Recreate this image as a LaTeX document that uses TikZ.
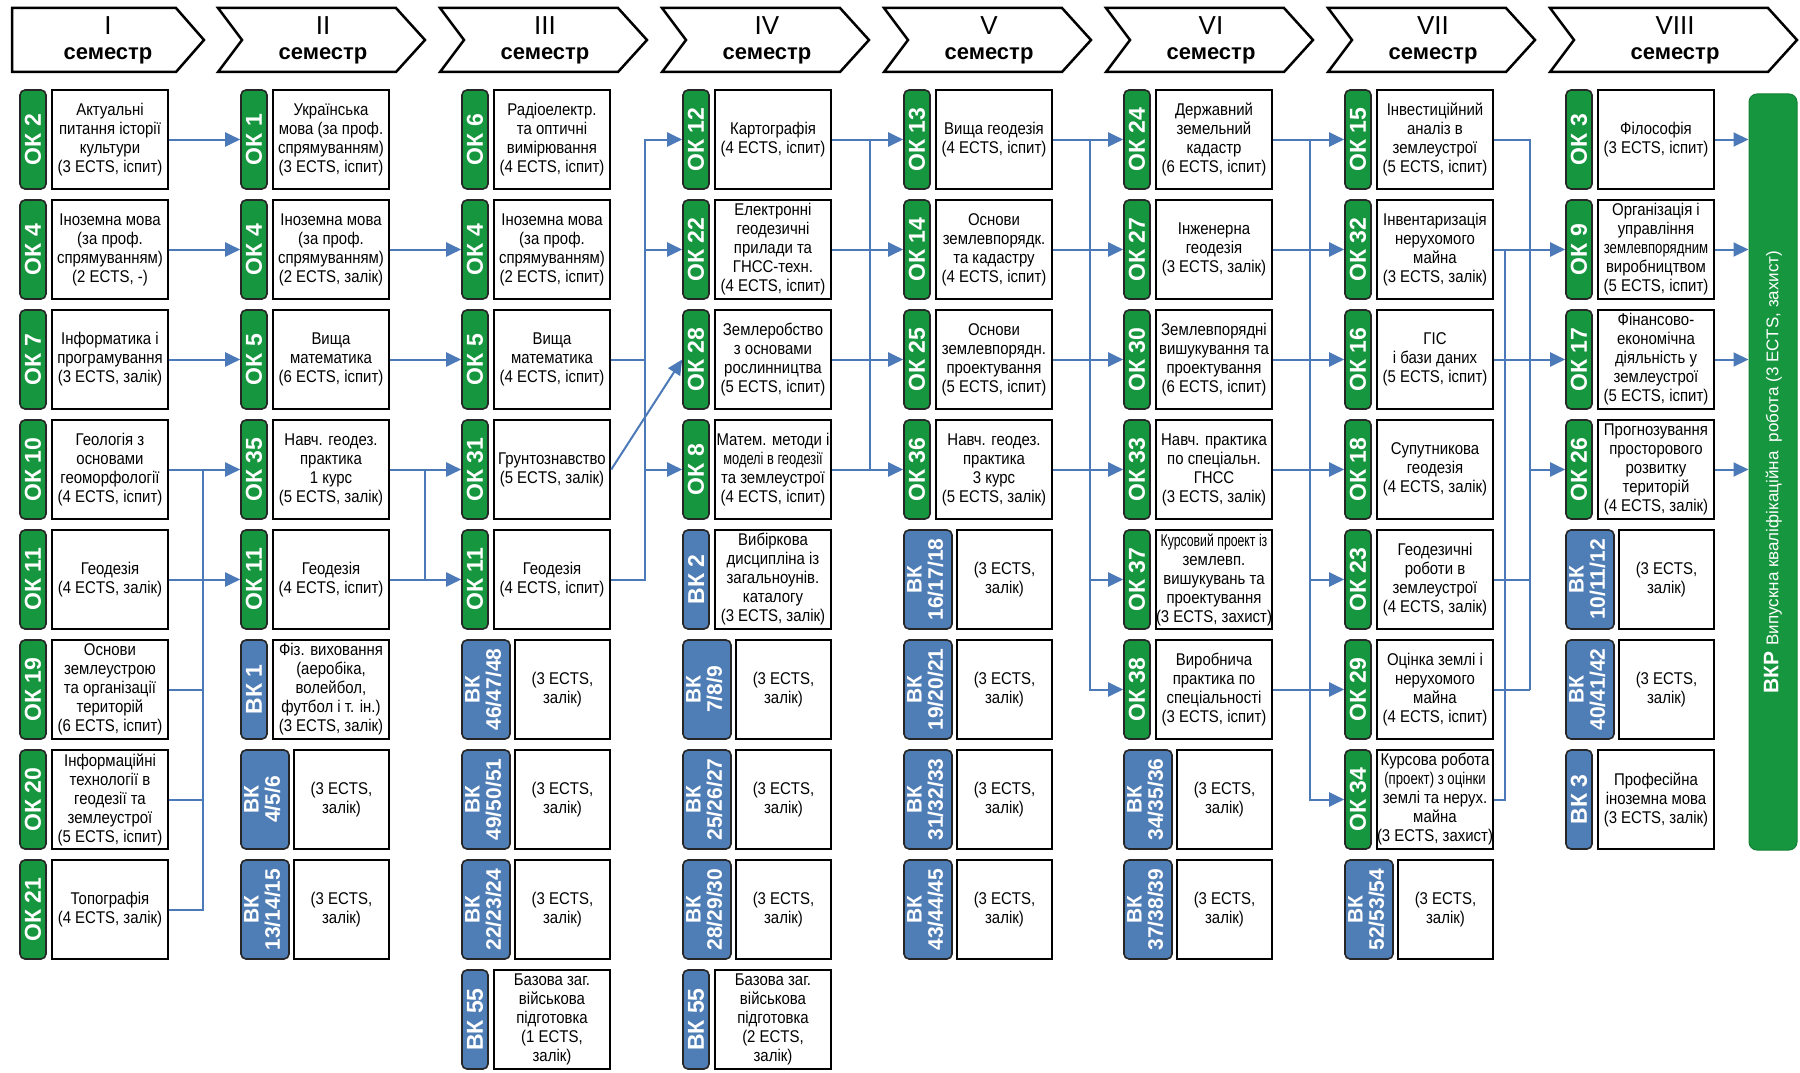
\documentclass[tikz,border=0pt]{standalone}
\usepackage{fontspec}
\setmainfont{Liberation Sans}
\newfontfamily\boxfont[FakeStretch=0.88]{Liberation Sans}
\usetikzlibrary{arrows.meta}
\definecolor{okgreen}{RGB}{22,150,62}
\definecolor{vkblue}{RGB}{79,125,182}
\definecolor{linkblue}{RGB}{76,122,184}

\begin{document}
\begin{tikzpicture}[x=1pt,y=-1pt,
    head/.style={draw=black, line width=2.5pt, fill=white},
    numeral/.style={inner sep=0pt, font=\fontsize{26}{26}\selectfont},
    semword/.style={inner sep=0pt, font=\bfseries\fontsize{22}{22}\selectfont},
    ok/.style={draw=black!85, line width=1.6pt, fill=okgreen, rounded corners=5pt, text=white,
      minimum width=26pt, minimum height=99pt, inner sep=0pt, font=\bfseries\fontsize{23}{23}\selectfont},
    vk/.style={ok, fill=vkblue},
    vkwide/.style={vk, minimum width=48pt, font=\bfseries\fontsize{21}{20}\selectfont},
    course/.style={draw=black, line width=2.5pt, fill=white, minimum width=116pt, minimum height=99pt,
      inner sep=0pt, align=center, font=\boxfont\fontsize{17}{19}\selectfont},
    elective/.style={course, minimum width=95pt},
    link/.style={draw=linkblue, line width=2pt, -{Triangle[length=15pt,width=14pt]}},
    wire/.style={draw=linkblue, line width=2pt}]

    \useasboundingbox (0,0) rectangle (1800,1073);

    % Semester headers
    \draw[head] (12,8) -- (176,8) -- (204,40) -- (176,72) -- (12,72) -- cycle;
    \draw[head] (218,8) -- (396,8) -- (425,40) -- (396,72) -- (218,72) -- (242,40) -- cycle;
    \draw[head] (440,8) -- (618,8) -- (647,40) -- (618,72) -- (440,72) -- (464,40) -- cycle;
    \draw[head] (662,8) -- (840,8) -- (869,40) -- (840,72) -- (662,72) -- (686,40) -- cycle;
    \draw[head] (884,8) -- (1062,8) -- (1091,40) -- (1062,72) -- (884,72) -- (908,40) -- cycle;
    \draw[head] (1106,8) -- (1284,8) -- (1313,40) -- (1284,72) -- (1106,72) -- (1130,40) -- cycle;
    \draw[head] (1328,8) -- (1506,8) -- (1535,40) -- (1506,72) -- (1328,72) -- (1352,40) -- cycle;
    \draw[head] (1550,8) -- (1768,8) -- (1797,40) -- (1768,72) -- (1550,72) -- (1574,40) -- cycle;

    \node[numeral] (h1) at (108,26) {I};
    \node[semword] (s1) at (108,56) {семестр};
    \node[numeral] (h2) at (323,26) {II};
    \node[semword] (s2) at (323,56) {семестр};
    \node[numeral] (h3) at (545,26) {III};
    \node[semword] (s3) at (545,56) {семестр};
    \node[numeral] (h4) at (767,26) {IV};
    \node[semword] (s4) at (767,56) {семестр};
    \node[numeral] (h5) at (989,26) {V};
    \node[semword] (s5) at (989,56) {семестр};
    \node[numeral] (h6) at (1211,26) {VI};
    \node[semword] (s6) at (1211,56) {семестр};
    \node[numeral] (h7) at (1433,26) {VII};
    \node[semword] (s7) at (1433,56) {семестр};
    \node[numeral] (h8) at (1675,26) {VIII};
    \node[semword] (s8) at (1675,56) {семестр};

    % Semester I
    \node[ok] (t11) at (33,139.5) {\rotatebox{90}{ОК 2}};
    \node[course] (b11) at (110,139.5) {Актуальні\\питання історії\\культури\\(3 ECTS, іспит)};
    \node[ok] (t12) at (33,249.5) {\rotatebox{90}{ОК 4}};
    \node[course] (b12) at (110,249.5) {Іноземна мова\\(за проф.\\спрямуванням)\\(2 ECTS, -)};
    \node[ok] (t13) at (33,359.5) {\rotatebox{90}{ОК 7}};
    \node[course] (b13) at (110,359.5) {Інформатика і\\програмування\\(3 ECTS, залік)};
    \node[ok] (t14) at (33,469.5) {\rotatebox{90}{ОК 10}};
    \node[course] (b14) at (110,469.5) {Геологія з\\основами\\геоморфології\\(4 ECTS, іспит)};
    \node[ok] (t15) at (33,579.5) {\rotatebox{90}{ОК 11}};
    \node[course] (b15) at (110,579.5) {Геодезія\\(4 ECTS, залік)};
    \node[ok] (t16) at (33,689.5) {\rotatebox{90}{ОК 19}};
    \node[course] (b16) at (110,689.5) {Основи\\землеустрою\\та організації\\територій\\(6 ECTS, іспит)};
    \node[ok] (t17) at (33,799.5) {\rotatebox{90}{ОК 20}};
    \node[course] (b17) at (110,799.5) {Інформаційні\\технології в\\геодезії та\\землеустрої\\(5 ECTS, іспит)};
    \node[ok] (t18) at (33,909.5) {\rotatebox{90}{ОК 21}};
    \node[course] (b18) at (110,909.5) {Топографія\\(4 ECTS, залік)};

    % Semester II
    \node[ok] (t21) at (254,139.5) {\rotatebox{90}{ОК 1}};
    \node[course] (b21) at (331,139.5) {Українська\\мова (за проф.\\спрямуванням)\\(3 ECTS, іспит)};
    \node[ok] (t22) at (254,249.5) {\rotatebox{90}{ОК 4}};
    \node[course] (b22) at (331,249.5) {Іноземна мова\\(за проф.\\спрямуванням)\\(2 ECTS, залік)};
    \node[ok] (t23) at (254,359.5) {\rotatebox{90}{ОК 5}};
    \node[course] (b23) at (331,359.5) {Вища\\математика\\(6 ECTS, іспит)};
    \node[ok] (t24) at (254,469.5) {\rotatebox{90}{ОК 35}};
    \node[course] (b24) at (331,469.5) {Навч. геодез.\\практика\\1 курс\\(5 ECTS, залік)};
    \node[ok] (t25) at (254,579.5) {\rotatebox{90}{ОК 11}};
    \node[course] (b25) at (331,579.5) {Геодезія\\(4 ECTS, іспит)};
    \node[vk] (t26) at (254,689.5) {\rotatebox{90}{ВК 1}};
    \node[course] (b26) at (331,689.5) {Фіз. виховання\\(аеробіка,\\волейбол,\\футбол і т. ін.)\\(3 ECTS, залік)};
    \node[vkwide] (t27) at (265,799.5) {\rotatebox{90}{\begin{tabular}{@{}c@{}}ВК\\4/5/6\end{tabular}}};
    \node[elective] (b27) at (341.5,799.5) {(3 ECTS,\\залік)};
    \node[vkwide] (t28) at (265,909.5) {\rotatebox{90}{\begin{tabular}{@{}c@{}}ВК\\13/14/15\end{tabular}}};
    \node[elective] (b28) at (341.5,909.5) {(3 ECTS,\\залік)};

    % Semester III
    \node[ok] (t31) at (475,139.5) {\rotatebox{90}{ОК 6}};
    \node[course] (b31) at (552,139.5) {Радіоелектр.\\та оптичні\\вимірювання\\(4 ECTS, іспит)};
    \node[ok] (t32) at (475,249.5) {\rotatebox{90}{ОК 4}};
    \node[course] (b32) at (552,249.5) {Іноземна мова\\(за проф.\\спрямуванням)\\(2 ECTS, іспит)};
    \node[ok] (t33) at (475,359.5) {\rotatebox{90}{ОК 5}};
    \node[course] (b33) at (552,359.5) {Вища\\математика\\(4 ECTS, іспит)};
    \node[ok] (t34) at (475,469.5) {\rotatebox{90}{ОК 31}};
    \node[course] (b34) at (552,469.5) {Грунтознавство\\(5 ECTS, залік)};
    \node[ok] (t35) at (475,579.5) {\rotatebox{90}{ОК 11}};
    \node[course] (b35) at (552,579.5) {Геодезія\\(4 ECTS, іспит)};
    \node[vkwide] (t36) at (486,689.5) {\rotatebox{90}{\begin{tabular}{@{}c@{}}ВК\\46/47/48\end{tabular}}};
    \node[elective] (b36) at (562.5,689.5) {(3 ECTS,\\залік)};
    \node[vkwide] (t37) at (486,799.5) {\rotatebox{90}{\begin{tabular}{@{}c@{}}ВК\\49/50/51\end{tabular}}};
    \node[elective] (b37) at (562.5,799.5) {(3 ECTS,\\залік)};
    \node[vkwide] (t38) at (486,909.5) {\rotatebox{90}{\begin{tabular}{@{}c@{}}ВК\\22/23/24\end{tabular}}};
    \node[elective] (b38) at (562.5,909.5) {(3 ECTS,\\залік)};
    \node[vk] (t39) at (475,1019.5) {\rotatebox{90}{ВК 55}};
    \node[course] (b39) at (552,1019.5) {Базова заг.\\військова\\підготовка\\(1 ECTS,\\залік)};

    % Semester IV
    \node[ok] (t41) at (696,139.5) {\rotatebox{90}{ОК 12}};
    \node[course] (b41) at (773,139.5) {Картографія\\(4 ECTS, іспит)};
    \node[ok] (t42) at (696,249.5) {\rotatebox{90}{ОК 22}};
    \node[course] (b42) at (773,249.5) {Електронні\\геодезичні\\прилади та\\ГНСС-техн.\\(4 ECTS, іспит)};
    \node[ok] (t43) at (696,359.5) {\rotatebox{90}{ОК 28}};
    \node[course] (b43) at (773,359.5) {Землеробство\\з основами\\рослинництва\\(5 ECTS, іспит)};
    \node[ok] (t44) at (696,469.5) {\rotatebox{90}{ОК 8}};
    \node[course] (b44) at (773,469.5) {Матем. методи і\\\scalebox{0.86}[1]{моделі в геодезії}\\та землеустрої\\(4 ECTS, іспит)};
    \node[vk] (t45) at (696,579.5) {\rotatebox{90}{ВК 2}};
    \node[course] (b45) at (773,579.5) {Вибіркова\\дисципліна із\\загальноунів.\\каталогу\\(3 ECTS, залік)};
    \node[vkwide] (t46) at (707,689.5) {\rotatebox{90}{\begin{tabular}{@{}c@{}}ВК\\7/8/9\end{tabular}}};
    \node[elective] (b46) at (783.5,689.5) {(3 ECTS,\\залік)};
    \node[vkwide] (t47) at (707,799.5) {\rotatebox{90}{\begin{tabular}{@{}c@{}}ВК\\25/26/27\end{tabular}}};
    \node[elective] (b47) at (783.5,799.5) {(3 ECTS,\\залік)};
    \node[vkwide] (t48) at (707,909.5) {\rotatebox{90}{\begin{tabular}{@{}c@{}}ВК\\28/29/30\end{tabular}}};
    \node[elective] (b48) at (783.5,909.5) {(3 ECTS,\\залік)};
    \node[vk] (t49) at (696,1019.5) {\rotatebox{90}{ВК 55}};
    \node[course] (b49) at (773,1019.5) {Базова заг.\\військова\\підготовка\\(2 ECTS,\\залік)};

    % Semester V
    \node[ok] (t51) at (917,139.5) {\rotatebox{90}{ОК 13}};
    \node[course] (b51) at (994,139.5) {Вища геодезія\\(4 ECTS, іспит)};
    \node[ok] (t52) at (917,249.5) {\rotatebox{90}{ОК 14}};
    \node[course] (b52) at (994,249.5) {Основи\\землевпорядк.\\та кадастру\\(4 ECTS, іспит)};
    \node[ok] (t53) at (917,359.5) {\rotatebox{90}{ОК 25}};
    \node[course] (b53) at (994,359.5) {Основи\\землевпорядн.\\проектування\\(5 ECTS, іспит)};
    \node[ok] (t54) at (917,469.5) {\rotatebox{90}{ОК 36}};
    \node[course] (b54) at (994,469.5) {Навч. геодез.\\практика\\3 курс\\(5 ECTS, залік)};
    \node[vkwide] (t55) at (928,579.5) {\rotatebox{90}{\begin{tabular}{@{}c@{}}ВК\\16/17/18\end{tabular}}};
    \node[elective] (b55) at (1004.5,579.5) {(3 ECTS,\\залік)};
    \node[vkwide] (t56) at (928,689.5) {\rotatebox{90}{\begin{tabular}{@{}c@{}}ВК\\19/20/21\end{tabular}}};
    \node[elective] (b56) at (1004.5,689.5) {(3 ECTS,\\залік)};
    \node[vkwide] (t57) at (928,799.5) {\rotatebox{90}{\begin{tabular}{@{}c@{}}ВК\\31/32/33\end{tabular}}};
    \node[elective] (b57) at (1004.5,799.5) {(3 ECTS,\\залік)};
    \node[vkwide] (t58) at (928,909.5) {\rotatebox{90}{\begin{tabular}{@{}c@{}}ВК\\43/44/45\end{tabular}}};
    \node[elective] (b58) at (1004.5,909.5) {(3 ECTS,\\залік)};

    % Semester VI
    \node[ok] (t61) at (1137,139.5) {\rotatebox{90}{ОК 24}};
    \node[course] (b61) at (1214,139.5) {Державний\\земельний\\кадастр\\(6 ECTS, іспит)};
    \node[ok] (t62) at (1137,249.5) {\rotatebox{90}{ОК 27}};
    \node[course] (b62) at (1214,249.5) {Інженерна\\геодезія\\(3 ECTS, залік)};
    \node[ok] (t63) at (1137,359.5) {\rotatebox{90}{ОК 30}};
    \node[course] (b63) at (1214,359.5) {Землевпорядні\\вишукування та\\проектування\\(6 ECTS, іспит)};
    \node[ok] (t64) at (1137,469.5) {\rotatebox{90}{ОК 33}};
    \node[course] (b64) at (1214,469.5) {Навч. практика\\по спеціальн.\\ГНСС\\(3 ECTS, залік)};
    \node[ok] (t65) at (1137,579.5) {\rotatebox{90}{ОК 37}};
    \node[course] (b65) at (1214,579.5) {\scalebox{0.82}[1]{Курсовий проект із}\\землевп.\\вишукувань та\\проектування\\(3 ECTS, захист)};
    \node[ok] (t66) at (1137,689.5) {\rotatebox{90}{ОК 38}};
    \node[course] (b66) at (1214,689.5) {Виробнича\\практика по\\спеціальності\\(3 ECTS, іспит)};
    \node[vkwide] (t67) at (1148,799.5) {\rotatebox{90}{\begin{tabular}{@{}c@{}}ВК\\34/35/36\end{tabular}}};
    \node[elective] (b67) at (1224.5,799.5) {(3 ECTS,\\залік)};
    \node[vkwide] (t68) at (1148,909.5) {\rotatebox{90}{\begin{tabular}{@{}c@{}}ВК\\37/38/39\end{tabular}}};
    \node[elective] (b68) at (1224.5,909.5) {(3 ECTS,\\залік)};

    % Semester VII
    \node[ok] (t71) at (1358,139.5) {\rotatebox{90}{ОК 15}};
    \node[course] (b71) at (1435,139.5) {Інвестиційний\\аналіз в\\землеустрої\\(5 ECTS, іспит)};
    \node[ok] (t72) at (1358,249.5) {\rotatebox{90}{ОК 32}};
    \node[course] (b72) at (1435,249.5) {Інвентаризація\\нерухомого\\майна\\(3 ECTS, залік)};
    \node[ok] (t73) at (1358,359.5) {\rotatebox{90}{ОК 16}};
    \node[course] (b73) at (1435,359.5) {ГІС\\і бази даних\\(5 ECTS, іспит)};
    \node[ok] (t74) at (1358,469.5) {\rotatebox{90}{ОК 18}};
    \node[course] (b74) at (1435,469.5) {Супутникова\\геодезія\\(4 ECTS, залік)};
    \node[ok] (t75) at (1358,579.5) {\rotatebox{90}{ОК 23}};
    \node[course] (b75) at (1435,579.5) {Геодезичні\\роботи в\\землеустрої\\(4 ECTS, залік)};
    \node[ok] (t76) at (1358,689.5) {\rotatebox{90}{ОК 29}};
    \node[course] (b76) at (1435,689.5) {Оцінка землі і\\нерухомого\\майна\\(4 ECTS, іспит)};
    \node[ok] (t77) at (1358,799.5) {\rotatebox{90}{ОК 34}};
    \node[course] (b77) at (1435,799.5) {Курсова робота\\\scalebox{0.88}[1]{(проект) з оцінки}\\землі та нерух.\\майна\\(3 ECTS, захист)};
    \node[vkwide] (t78) at (1369,909.5) {\rotatebox{90}{\begin{tabular}{@{}c@{}}ВК\\52/53/54\end{tabular}}};
    \node[elective] (b78) at (1445.5,909.5) {(3 ECTS,\\залік)};

    % Semester VIII
    \node[ok] (t81) at (1579,139.5) {\rotatebox{90}{ОК 3}};
    \node[course] (b81) at (1656,139.5) {Філософія\\(3 ECTS, іспит)};
    \node[ok] (t82) at (1579,249.5) {\rotatebox{90}{ОК 9}};
    \node[course] (b82) at (1656,249.5) {Організація і\\управління\\\scalebox{0.88}[1]{землевпорядним}\\виробництвом\\(5 ECTS, іспит)};
    \node[ok] (t83) at (1579,359.5) {\rotatebox{90}{ОК 17}};
    \node[course] (b83) at (1656,359.5) {Фінансово-\\економічна\\діяльність у\\землеустрої\\(5 ECTS, іспит)};
    \node[ok] (t84) at (1579,469.5) {\rotatebox{90}{ОК 26}};
    \node[course] (b84) at (1656,469.5) {Прогнозування\\просторового\\розвитку\\територій\\(4 ECTS, залік)};
    \node[vkwide] (t85) at (1590,579.5) {\rotatebox{90}{\begin{tabular}{@{}c@{}}ВК\\10/11/12\end{tabular}}};
    \node[elective] (b85) at (1666.5,579.5) {(3 ECTS,\\залік)};
    \node[vkwide] (t86) at (1590,689.5) {\rotatebox{90}{\begin{tabular}{@{}c@{}}ВК\\40/41/42\end{tabular}}};
    \node[elective] (b86) at (1666.5,689.5) {(3 ECTS,\\залік)};
    \node[vk] (t87) at (1579,799.5) {\rotatebox{90}{ВК 3}};
    \node[course] (b87) at (1656,799.5) {Професійна\\іноземна мова\\(3 ECTS, залік)};

    % Final qualification work
    \node[fill=okgreen, draw=okgreen!85!black, line width=1pt, rounded corners=8pt, text=white,
      minimum width=48pt, minimum height=756pt, inner sep=0pt] (vkr) at (1773,472)
      {\rotatebox{90}{{\bfseries\fontsize{21}{21}\selectfont ВКР}\ \ {\fontsize{17}{17}\selectfont Випускна кваліфікаційна \ робота (3 ECTS, захист)}}};

    % I -> II
    \coordinate (bus1) at (203,0);
    \draw[link] (b11.east) -- (t21.west);
    \draw[link] (b12.east) -- (t22.west);
    \draw[link] (b13.east) -- (t23.west);
    \draw[link] (b14.east) -- (t24.west);
    \draw[link] (b15.east) -- (t25.west);
    \draw[wire] (b18.east) -| (bus1 |- b14.east);
    \draw[wire] (b16.east) -- (bus1 |- b16.east);
    \draw[wire] (b17.east) -- (bus1 |- b17.east);

    % II -> III
    \coordinate (bus2) at (425,0);
    \draw[link] (b22.east) -- (t32.west);
    \draw[link] (b23.east) -- (t33.west);
    \draw[link] (b24.east) -- (t34.west);
    \draw[link] (b25.east) -- (t35.west);
    \draw[wire] (bus2 |- b24.east) -- (bus2 |- b25.east);

    % III -> IV
    \coordinate (bus3) at (645,0);
    \draw[link] (b35.east) -| (bus3 |- t41.west) -- (t41.west);
    \draw[wire] (b33.east) -- (bus3 |- b33.east);
    \draw[link] (bus3 |- t42.west) -- (t42.west);
    \draw[link] (bus3 |- t44.west) -- (t44.west);
    \draw[link] (b34.east) -- (t43.west);

    % IV -> V
    \coordinate (bus4) at (870,0);
    \draw[link] (b41.east) -- (t51.west);
    \draw[link] (b42.east) -- (t52.west);
    \draw[link] (b43.east) -- (t53.west);
    \draw[link] (b44.east) -- (t54.west);
    \draw[wire] (bus4 |- b41.east) -- (bus4 |- b44.east);

    % V -> VI
    \coordinate (bus5) at (1090,0);
    \draw[link] (b51.east) -- (t61.west);
    \draw[link] (b52.east) -- (t62.west);
    \draw[link] (b53.east) -- (t63.west);
    \draw[link] (b54.east) -- (t64.west);
    \draw[link] (bus5 |- b51.east) |- (t66.west);
    \draw[link] (bus5 |- t65.west) -- (t65.west);

    % VI -> VII
    \coordinate (bus6) at (1310,0);
    \draw[link] (b61.east) -- (t71.west);
    \draw[link] (b62.east) -- (t72.west);
    \draw[link] (b63.east) -- (t73.west);
    \draw[link] (b64.east) -- (t74.west);
    \draw[link] (b66.east) -- (t76.west);
    \draw[link] (bus6 |- b61.east) |- (t77.west);
    \draw[link] (bus6 |- t75.west) -- (t75.west);

    % VII -> VIII
    \coordinate (busa) at (1505,0);
    \coordinate (busb) at (1530,0);
    \draw[link] (b72.east) -- (t82.west);
    \draw[link] (b73.east) -- (t83.west);
    \draw[wire] (b77.east) -| (busa |- b72.east);
    \draw[wire] (b71.east) -| (busb |- b76.east);
    \draw[wire] (b75.east) -- (busb |- b75.east);
    \draw[wire] (b76.east) -- (busb |- b76.east);
    \draw[link] (busb |- t84.west) -- (t84.west);

    % VIII -> final work
    \draw[link] (b81.east) -- (vkr.west |- b81.east);
    \draw[link] (b82.east) -- (vkr.west |- b82.east);
    \draw[link] (b83.east) -- (vkr.west |- b83.east);
    \draw[link] (b84.east) -- (vkr.west |- b84.east);

\end{tikzpicture}
\end{document}
